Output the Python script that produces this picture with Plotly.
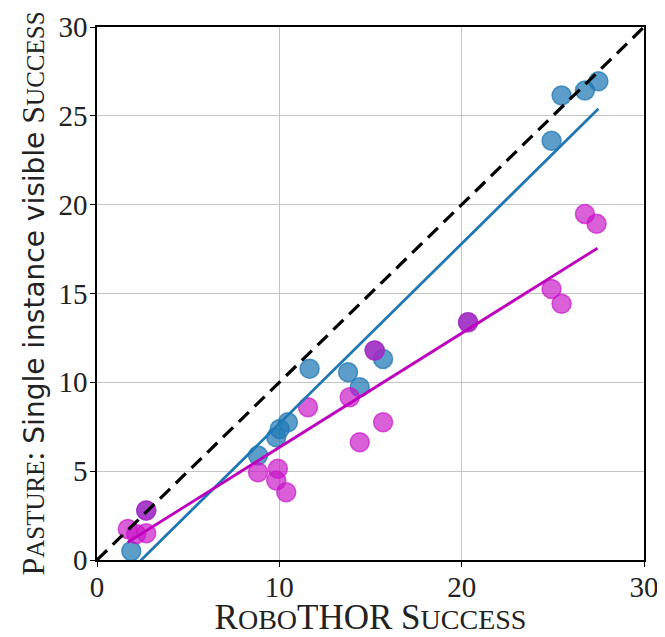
import plotly.graph_objects as go

# ---- data ----
blue_x = [1.88, 2.70, 8.83, 9.83, 10.02, 10.47, 11.66, 13.77, 14.41, 15.23, 15.69, 20.35, 24.93, 25.48, 26.76, 27.50]
blue_y = [0.50, 2.79, 5.88, 6.91, 7.38, 7.75, 10.76, 10.57, 9.72, 11.79, 11.32, 13.38, 23.60, 26.14, 26.42, 26.95]

mag_x = [1.69, 2.15, 2.70, 2.70, 8.83, 9.83, 9.92, 10.38, 11.57, 13.86, 14.41, 15.23, 15.69, 20.35, 24.93, 25.48, 26.76, 27.40]
mag_y = [1.75, 1.47, 1.50, 2.79, 4.94, 4.47, 5.13, 3.82, 8.60, 9.16, 6.63, 11.79, 7.75, 13.38, 15.26, 14.42, 19.48, 18.92]

blue_fit_x = [1.88, 27.50]
blue_fit_y = [-0.55, 25.40]
mag_fit_x = [1.69, 27.45]
mag_fit_y = [1.00, 17.55]

diag_x = [0, 30]
diag_y = [0, 30]

x_ticks = [0, 10, 20, 30]
y_ticks = [0, 5, 10, 15, 20, 25, 30]

BLUE = "31,119,180"
MAG = "200,20,200"

fig = go.Figure()
fig.add_trace(go.Scatter(
    x=blue_x, y=blue_y, mode="markers",
    marker=dict(size=19, color=f"rgba({BLUE},0.72)",
                line=dict(color=f"rgba({BLUE},0.72)", width=1.5)),
    showlegend=False))
fig.add_trace(go.Scatter(
    x=mag_x, y=mag_y, mode="markers",
    marker=dict(size=19, color=f"rgba({MAG},0.68)",
                line=dict(color=f"rgba({MAG},0.68)", width=1.5)),
    showlegend=False))
fig.add_trace(go.Scatter(
    x=blue_fit_x, y=blue_fit_y, mode="lines",
    line=dict(color=f"rgb({BLUE})", width=2.8), showlegend=False))
fig.add_trace(go.Scatter(
    x=mag_fit_x, y=mag_fit_y, mode="lines",
    line=dict(color="rgb(190,0,190)", width=2.8), showlegend=False))
fig.add_trace(go.Scatter(
    x=diag_x, y=diag_y, mode="lines",
    line=dict(color="black", width=3.2, dash="14px,8px"), showlegend=False))

serif = "Liberation Serif, DejaVu Serif, serif"
axis_common = dict(
    showgrid=True, gridcolor="#c4c4c4", gridwidth=1.2,
    showline=True, linecolor="black", linewidth=1.5, mirror=True,
    ticks="outside", ticklen=5, tickwidth=1.2, tickcolor="black",
    zeroline=False, automargin=False,
    tickfont=dict(family=serif, size=29, color="#222"),
)

fig.update_xaxes(
    range=[0, 30], tickvals=x_ticks, ticklabelstandoff=-5, **axis_common,
    title=dict(text="R<span style='font-size:28px'>OBO</span>THOR S<span style='font-size:28px'>UCCESS</span>",
               font=dict(family=serif, size=35, color="#222"), standoff=0),
)
fig.update_yaxes(
    range=[0, 30], tickvals=y_ticks, ticklabelstandoff=-3, **axis_common,
    title=dict(text="P<span style='font-size:25px'>ASTURE</span>: "
                    "<span style='font-family:DejaVu Sans, sans-serif;font-size:28px'>Single instance visible</span> "
                    "S<span style='font-size:25px'>UCCESS</span>",
               font=dict(family=serif, size=32, color="#222"), standoff=4),
)

# the page body adds an 8px offset, so the figure is sized to fit the window
fig.update_layout(
    width=657, height=629,
    margin=dict(l=89, r=21, t=19, b=77),
    plot_bgcolor="white", paper_bgcolor="white",
    showlegend=False,
)

fig.write_html("out.html")
